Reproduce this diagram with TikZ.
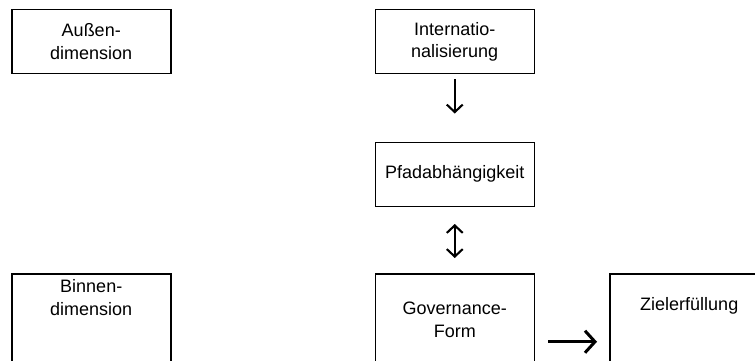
\documentclass[tikz,border=0pt]{standalone}
\usepackage{fontspec}
\setmainfont{Liberation Sans}
\usetikzlibrary{positioning,arrows.meta}

\begin{document}
\begin{tikzpicture}[x=1pt, y=-1pt, node distance=66pt, every node/.style={align=center, font=\fontsize{18}{22.7}\selectfont}]
        % styles
        \tikzset{
            block/.style={rectangle, draw=black, line width=1.5pt, inner sep=0pt, text width=159pt, minimum height=64pt},
            lowblock/.style={block, minimum height=100pt},
            arrow/.style={line width=2.1pt, -{Straight Barb[length=7.5pt, width=16pt]}},
            twoway/.style={line width=2.1pt, {Straight Barb[length=7.5pt, width=16pt]}-{Straight Barb[length=7.5pt, width=16pt]}},
            bigarrow/.style={line width=3pt, -{Straight Barb[length=10pt, width=22pt]}}
        }
        \useasboundingbox (0,0) rectangle (755,361);
        \clip (0,0) rectangle (755,361);

        % nodes
        \node (aussen) [block, anchor=north west] at (11,9) {Außen-\\dimension};
        \node (intern) [block, right=203pt of aussen] {Internatio-\\nalisierung};
        \node (pfad) [block, below=67pt of intern] {Pfadabhängigkeit};
        \node (gov) [lowblock, below=66pt of pfad, text height=41pt, text depth=59pt] {Governance-\\Form};
        \node (binnen) [lowblock, left=203pt of gov, text height=19pt, text depth=81pt] {Binnen-\\dimension};
        \node (ziel) [lowblock, right=74pt of gov, text height=37pt, text depth=63pt] {Zielerfüllung};

        % arrows
        \draw [arrow, shorten <=5pt, shorten >=28pt] (intern) -- (pfad);
        \draw [twoway, shorten <=17pt, shorten >=15pt] (pfad) -- (gov);
        \draw [bigarrow, shorten <=13pt, shorten >=12pt] ([yshift=-18pt]gov.east) -- ([yshift=-18pt]ziel.west);
\end{tikzpicture}
\end{document}
